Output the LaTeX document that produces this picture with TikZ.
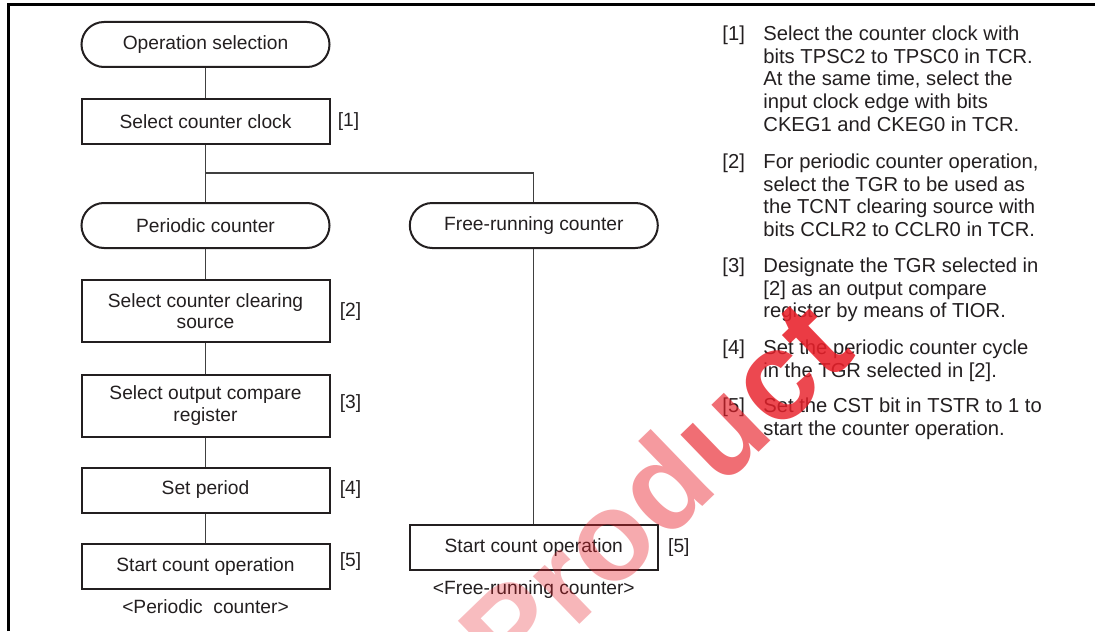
\documentclass[tikz,border=0pt]{standalone}
\usepackage{fontspec}
\setmainfont{Liberation Sans}
\usepackage{xcolor}
\usetikzlibrary{positioning}
\definecolor{ink}{HTML}{231F20}
\definecolor{wmred}{HTML}{E8202A}
\newcommand{\FB}{\fontsize{9.6}{10.8}\selectfont}
\newcommand{\FN}{\fontsize{10.1}{11.35}\selectfont}
\newcommand{\FW}{\fontsize{63}{66}\selectfont\bfseries}

\begin{document}
\begin{tikzpicture}[x=0.5pt,y=-0.5pt,font=\FB,text=ink]
\tikzstyle{term}=[draw=ink,line width=1pt,rounded corners=11.25pt,minimum width=124pt,minimum height=22.5pt,inner sep=0pt]
\tikzstyle{proc}=[draw=ink,line width=1pt,minimum width=124pt,minimum height=22.5pt,align=center,inner sep=0pt]
\tikzstyle{tall}=[minimum height=31pt]
\tikzstyle{wire}=[draw=black!75,line width=0.65pt]
\tikzstyle{lbl}=[inner sep=0pt]
\tikzstyle{note}=[inner sep=0pt,align=left,anchor=north west,font=\FN]
\tikzstyle{wm}=[inner sep=0pt,anchor=base west,rotate=44,text=wmred,font=\FW]

\useasboundingbox (0,0) rectangle (1095,631);
\draw[black,line width=1.25pt] (8.5,631) -- (8.5,4.5) -- (1095,4.5);

\node[term] (op)   at (205.5,44.5)  {Operation selection};
\node[proc] (clk)  at (205.5,121.5) {Select counter clock};
\node[term] (per)  at (205.5,225.5) {Periodic counter};
\node[proc,tall] (src) at (205.5,311.3) {Select counter clearing\\source};
\node[proc,tall] (cmp) at (205.5,405.5) {Select output compare\\register};
\node[proc] (prd)  at (205.5,490)   {Set period};
\node[proc] (st1)  at (205.5,566.3) {Start count operation};
\node[term] (free) at (533.8,225.5) {Free-running counter};
\node[proc] (st2)  at (533.8,547.3) {Start count operation};

\node[lbl,right=3.5pt of clk] (l1) {[1]};
\node[lbl,right=4.5pt of src] (l2) {[2]};
\node[lbl,right=4.5pt of cmp,yshift=1pt] (l3) {[3]};
\node[lbl,right=4.5pt of prd] (l4) {[4]};
\node[lbl,right=4.5pt of st1,yshift=2.3pt] (l5) {[5]};
\node[lbl,right=4.5pt of st2] (l5b) {[5]};

\node[lbl,below=4.5pt of st1] (cap1) {<Periodic~~counter>};
\node[lbl,below=4.5pt of st2] (cap2) {<Free-running counter>};

\draw[wire] (op) -- (clk);
\draw[wire] (clk) -- (per);
\draw[wire] (clk.south) ++(0,28) coordinate (fork) -| (free);
\draw[wire] (per) -- (src);
\draw[wire] (src) -- (cmp);
\draw[wire] (cmp) -- (prd);
\draw[wire] (prd) -- (st1);
\draw[wire] (free) -- (st2);

\node[note] (k1) at (722,25.3)  {[1]};
\node[note] (n1) at (763,25.3)  {Select the counter clock with\\bits TPSC2 to TPSC0 in TCR.\\At the same time, select the\\input clock edge with bits\\CKEG1 and CKEG0 in TCR.};
\node[note] (k2) at (722,153.3) {[2]};
\node[note] (n2) at (763,153.3) {For periodic counter operation,\\select the TGR to be used as\\the TCNT clearing source with\\bits CCLR2 to CCLR0 in TCR.};
\node[note] (k3) at (722,257.3) {[3]};
\node[note] (n3) at (763,257.3) {Designate the TGR selected in\\{}[2] as an output compare\\register by means of TIOR.};
\node[note] (k4) at (722,339.3) {[4]};
\node[note] (n4) at (763,339.3) {Set the periodic counter cycle\\in the TGR selected in [2].};
\node[note] (k5) at (722,397.3) {[5]};
\node[note] (n5) at (763,397.3) {Set the CST bit in TSTR to 1 to\\start the counter operation.};

\begin{scope}
\clip (0,0) rectangle (1095,631);
\node[wm,opacity=.3]  (wP) at (512,690) {P};
\node[wm,opacity=.33] (wr) at (wP.base east) {r};
\node[wm,opacity=.38] (wo) at (wr.base east) {o};
\node[wm,opacity=.45] (wd) at (wo.base east) {d};
\node[wm,opacity=.65] (wu) at (wd.base east) {u};
\node[wm,opacity=.82] (wc) at (wu.base east) {c};
\node[wm,opacity=.88] (wt) at (wc.base east) {t};
\end{scope}
\end{tikzpicture}
\end{document}
